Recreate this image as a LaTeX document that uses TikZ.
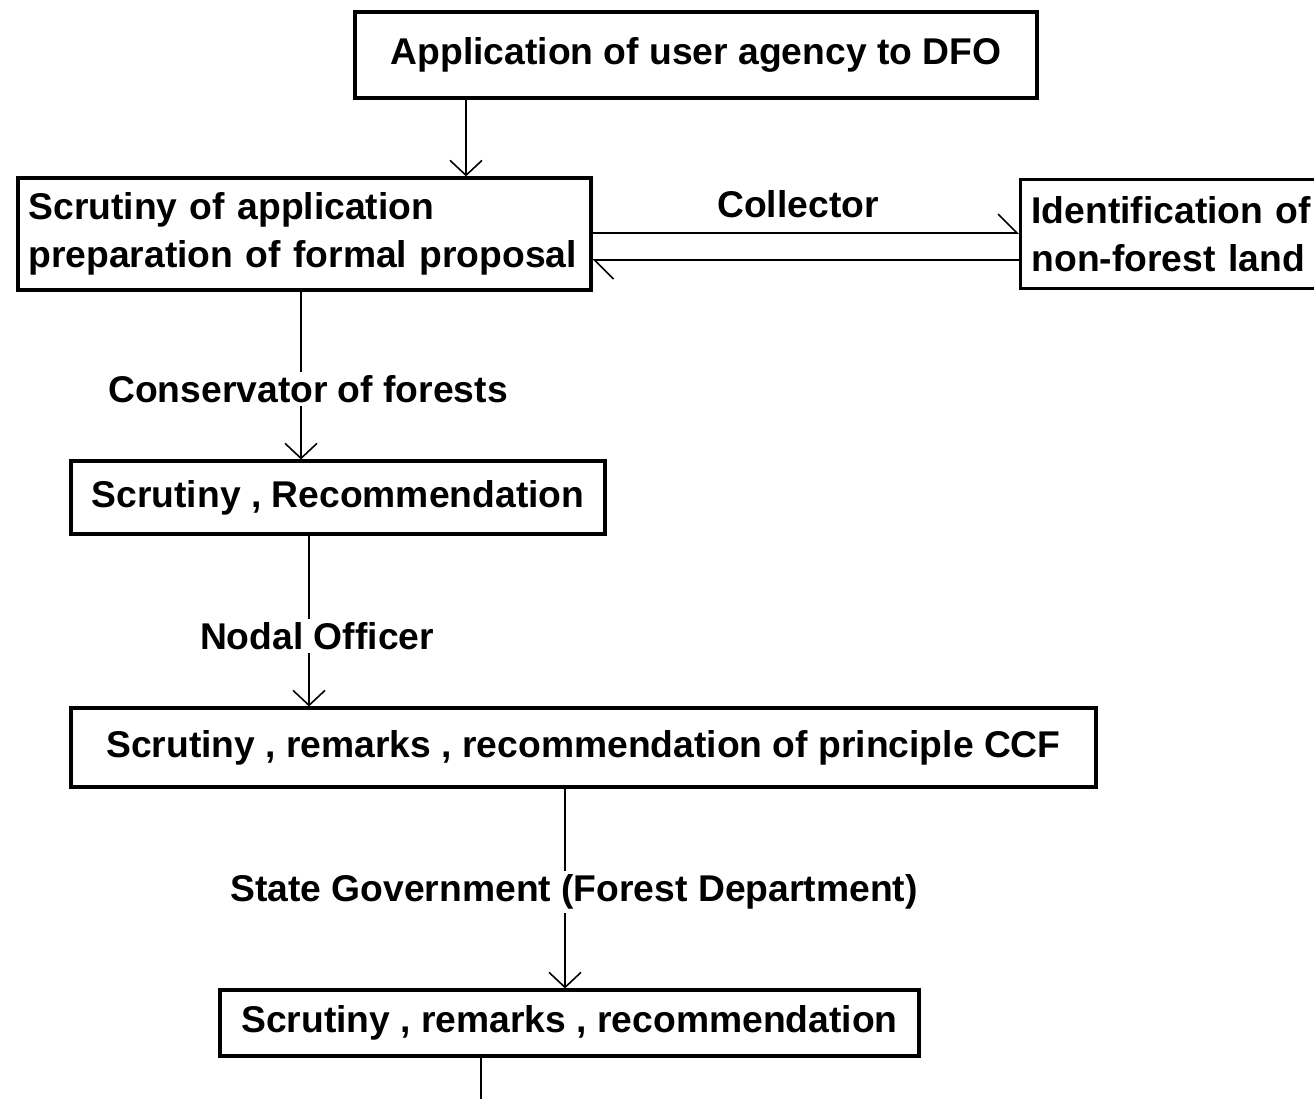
\documentclass[tikz,border=0pt]{standalone}
\usepackage{fontspec}
\setmainfont{Liberation Sans}
\usetikzlibrary{arrows.meta}
\pgfdeclarelayer{edgelayer}
\pgfsetlayers{edgelayer,main}

\begin{document}
\begin{tikzpicture}[
  txt/.style={font=\fontsize{10.6}{13.5}\selectfont\bfseries},
  box/.style={txt, draw, line width=0.9pt, inner sep=0pt},
  arr/.style={line width=0.45pt, -{Straight Barb[length=1.5mm,width=3.2mm]}},
  harr/.style={line width=0.45pt, -{Straight Barb[left,length=1.9mm,width=3.8mm]}},
  lbl/.style={txt, fill=white, inner sep=1pt}
]
  \useasboundingbox (0,0) rectangle (13.14,-10.99);
  \clip (0,0) rectangle (13.14,-10.99);
  % nodes
	\node [box, minimum width=6.82cm, minimum height=0.86cm] (0) at (6.96, -0.55) {Application of user agency to DFO};
	\node [box, minimum height=1.12cm, text width=5.52cm, align=left, inner xsep=0.105cm] (1) at (3.045, -2.34) {Scrutiny of application\\preparation of formal proposal};
	\node [box, anchor=north west, minimum height=1.09cm, text width=3.1cm, align=left, inner xsep=0.11cm] (2) at (10.19, -1.78) {Identification of\\non-forest land};
	\node [box, minimum width=5.34cm, minimum height=0.73cm] (3) at (3.38, -4.975) {Scrutiny , Recommendation};
	\node [box, minimum width=10.25cm, minimum height=0.79cm] (4) at (5.835, -7.475) {Scrutiny , remarks , recommendation of principle CCF};
	\node [box, minimum width=6.99cm, minimum height=0.66cm] (5) at (5.695, -10.23) {Scrutiny , remarks , recommendation};
	\node [txt] (9) at (7.98, -2.04) {Collector};
	%% where the connectors run
	\coordinate (a) at (4.66, 0);
	\coordinate (b) at (3.01, 0);
	\coordinate (c) at (3.09, 0);
	\coordinate (d) at (5.65, 0);
	\coordinate (e) at (4.81, -10.99);
	\coordinate (f) at (0, -2.33);
	\coordinate (g) at (0, -2.60);
	% edges
	\begin{pgfonlayer}{edgelayer}
	\draw [arr] (a |- 0.south) -- (a |- 1.north);
	\draw [arr] (b |- 1.south) -- (b |- 3.north);
	\draw [arr] (c |- 3.south) -- (c |- 4.north);
	\draw [arr] (d |- 4.south) -- (d |- 5.north);
	\draw [line width=0.45pt] (e |- 5.south) -- (e);
	\draw [harr] (1.east |- f) -- (2.west |- f);
	\draw [harr] (2.west |- g) -- (1.east |- g);
	\end{pgfonlayer}
	% labels on the edges
	\node [lbl] (6) at (3.08, -3.89) {Conservator of forests};
	\node [lbl] (7) at (3.17, -6.36) {Nodal Officer};
	\node [lbl] (8) at (5.74, -8.92) {State Government (Forest Department)};
\end{tikzpicture}
\end{document}
